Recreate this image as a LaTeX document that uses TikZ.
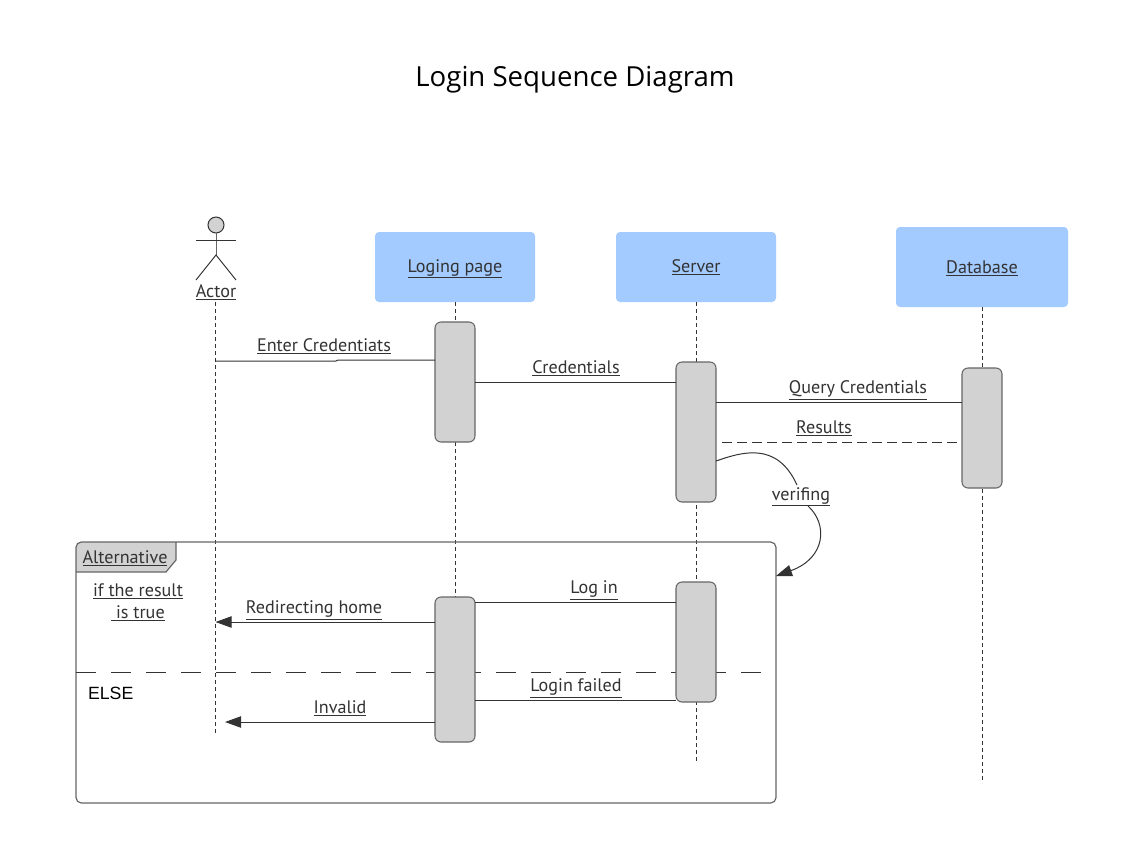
\documentclass[tikz,border=0pt]{standalone}
\usepackage{fontspec}
\setmainfont{PT Sans}
\newfontfamily\titlefont{Open Sans}
\newfontfamily\elsefont{Liberation Sans}
\usetikzlibrary{arrows.meta,calc}
\definecolor{ink}{HTML}{333333}
\definecolor{boxblue}{HTML}{A3CBFF}
\definecolor{actgrey}{HTML}{D2D2D2}
\definecolor{edgegrey}{HTML}{666666}
\newcommand{\ul}[1]{\underline{#1}}
\tikzset{
  x=0.75pt,y=-0.75pt,
  every node/.style={inner sep=0pt,outer sep=0pt,text=ink,font=\fontsize{13.6pt}{16pt}\selectfont},
  party/.style={draw=none,fill=boxblue,rounded corners=3pt,anchor=north west},
  active/.style={draw=edgegrey,line width=0.8pt,fill=actgrey,rounded corners=4.5pt,minimum width=30pt,anchor=north},
  lifeline/.style={draw=ink,line width=0.75pt,dash pattern=on 3pt off 2.25pt},
  msg/.style={draw=ink,line width=0.75pt},
  arrowmsg/.style={msg,-{Triangle[length=12pt,width=8.5pt]}},
  lbl/.style={anchor=base,align=center}
}
\begin{document}
\begin{tikzpicture}
\useasboundingbox (0,0) rectangle (1136,840);
\fill[white] (0,0) rectangle (1136,840);

\node[text=black,font=\titlefont\fontsize{20.7pt}{25pt}\selectfont] (title) at (575,80) {Login Sequence Diagram};

% end points of the lifelines
\coordinate (actorTop) at (215.5,302);
\coordinate (actorEnd) at (215.5,733);
\coordinate (loginEnd) at (455,597);
\coordinate (serverEnd) at (696,763);
\coordinate (dbEnd) at (982,783);

% parties
\node[party,minimum width=120pt,minimum height=52.5pt] (login) at (375,232) {};
\node[party,minimum width=120pt,minimum height=52.5pt] (server) at (616,232) {};
\node[party,minimum width=129pt,minimum height=60pt] (db) at (896,227) {};
\node[lbl] (loginT) at (455,272) {\ul{Loging page}};
\node[lbl] (serverT) at (696,272) {\ul{Server}};
\node[lbl] (dbT) at (982,273) {\ul{Database}};

% lifelines
\draw[lifeline] (actorTop) -- (actorEnd);
\draw[lifeline] (login.south) -- (loginEnd);
\draw[lifeline] (server.south) -- (serverEnd);
\draw[lifeline] (db.south) -- (dbEnd);

% frame
\fill[actgrey] (176,542) [rounded corners=4pt] -- (76,542) [sharp corners] -- (76,572) -- (166,572) -- (176,560) -- cycle;
\node[draw=edgegrey,line width=0.9pt,rounded corners=4pt,minimum width=525pt,minimum height=195.75pt,anchor=north west] (frame) at (76,542) {};
\draw[draw=ink,line width=0.75pt,dash pattern=on 15pt off 11.25pt] (frame.west |- 0,672.5) -- (762,672.5) coordinate (divEnd);
\draw[edgegrey,line width=0.9pt] (76,572) -- (166,572) -- (176,560) -- (176,542);
\node[lbl] (altT) at (125,563) {\ul{Alternative}};
\node[lbl] (cond1) at (138,596) {\ul{if the result}};
\node[lbl] (cond2) at (138,618) {\ul{\ is true}};
\node[anchor=base west,text=black,font=\elsefont\fontsize{13.3pt}{15pt}\selectfont] (elseT) at (88,699) {ELSE};

% actor
\node[circle,draw=ink,line width=0.75pt,fill=actgrey,minimum size=12pt] (head) at (216,225) {};
\coordinate (hip) at (216,255);
\coordinate (armL) at (196,240);
\coordinate (armR) at (236,240);
\coordinate (footL) at (196,280);
\coordinate (footR) at (236,280);
\draw[msg,edgegrey] (head.south) -- (hip);
\draw[msg] (armL) -- (armR);
\draw[msg] (footL) -- (hip) -- (footR);
\node[lbl] (actorT) at (216,297) {\ul{Actor}};

% activations
\node[active,minimum height=90pt] (a1) at (455,322) {};
\node[active,minimum height=105pt] (s1) at (696,362) {};
\node[active,minimum height=90pt] (d1) at (982,368) {};
\node[active,minimum height=108.75pt] (a2) at (455,597) {};
\node[active,minimum height=90pt] (s2) at (696,582) {};

% messages
\draw[msg] (actorTop |- 0,361) -- (336,361) -- (338,360) -- (a1.west |- 0,360);
\draw[msg] (a1.east |- 0,382) -- (s1.west |- 0,382);
\draw[msg] (s1.east |- 0,402.5) -- (d1.west |- 0,402.5);
\draw[msg,dash pattern=on 7.5pt off 3.75pt] (722,442) -- (d1.west |- 0,442);
\draw[msg] (s2.west |- 0,602) -- (a2.east |- 0,602);
\draw[arrowmsg] (a2.west |- 0,622) -- (actorTop |- 0,622);
\draw[msg] (s2.west |- 0,700) -- (a2.east |- 0,700);
\coordinate (invalidEnd) at (225,722);
\draw[arrowmsg] (a2.west |- 0,722) -- (invalidEnd);

% self message
\coordinate (verStart) at (s1.east |- 0,461);
\coordinate (verEnd) at (frame.east |- 0,576);
\draw[msg] (verStart) .. controls (742,452) and (777,441) .. (797,485);
\draw[arrowmsg] (808,506) .. controls (828,524) and (826,558) .. (verEnd);

% message labels
\node[lbl] (m1) at (324,351) {\ul{Enter Credentiats}};
\node[lbl] (m2) at (576,373.5) {\ul{Credentials}};
\node[lbl] (m3) at (858,393.5) {\ul{Query Credentials}};
\node[lbl] (m4) at (824,433.5) {\ul{Results}};
\node[lbl] (m5) at (801,500) {\ul{verifing}};
\node[lbl] (m6) at (594,593.5) {\ul{Log in}};
\node[lbl] (m7) at (314,613.5) {\ul{Redirecting home}};
\node[lbl] (m8) at (576,691.5) {\ul{Login failed}};
\node[lbl] (m9) at (340,713.5) {\ul{Invalid}};
\end{tikzpicture}
\end{document}
